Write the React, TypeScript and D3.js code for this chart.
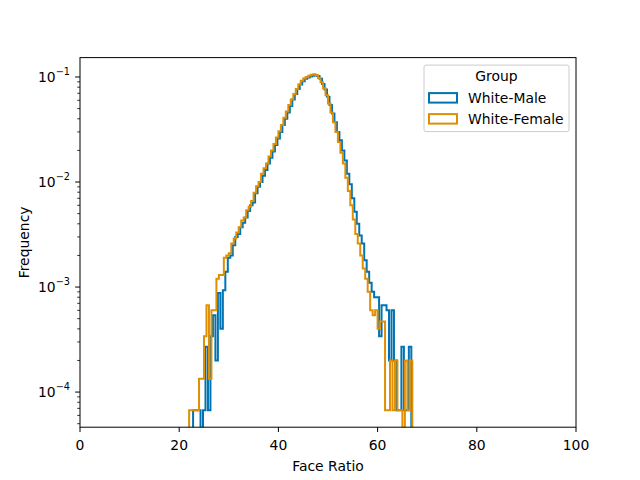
import * as d3 from 'd3';

// Histogram data (bin width 0.5, frequency per bin)
const BIN_WIDTH = 0.5;
const MALE_START = 22.3;
const FEMALE_START = 22.0;

const maleFreq = [
  0, 6.7e-5, 6.7e-5, 6.7e-5, 0, 6.7e-5, 2.7e-4, 6.7e-5, 3.4e-4, 5.4e-4,
  2.0e-4, 8.8e-4, 4.0e-4, 9.3e-4, 1.4e-3, 1.9e-3, 2.0e-3, 2.5e-3, 3.0e-3, 3.2e-3,
  3.7e-3, 4.1e-3, 4.6e-3, 5.3e-3, 6.0e-3, 6.4e-3, 7.8e-3, 9.0e-3, 1.0e-2, 1.15e-2,
  1.3e-2, 1.5e-2, 1.7e-2, 1.95e-2, 2.25e-2, 2.6e-2, 3.0e-2, 3.5e-2, 4.0e-2, 4.6e-2,
  5.3e-2, 6.1e-2, 6.9e-2, 7.7e-2, 8.5e-2, 9.1e-2, 9.6e-2, 9.9e-2, 1.01e-1, 1.03e-1,
  1.04e-1, 1.02e-1, 9.6e-2, 8.6e-2, 7.6e-2, 6.5e-2, 5.4e-2, 4.5e-2, 3.7e-2, 3.0e-2,
  2.5e-2, 2.0e-2, 1.6e-2, 1.2e-2, 9.5e-3, 7.0e-3, 5.2e-3, 4.0e-3, 3.1e-3, 2.6e-3,
  1.8e-3, 1.4e-3, 1.1e-3, 9.0e-4, 8.0e-4, 8.0e-4, 3.4e-4, 6.7e-4, 6.7e-4, 6.0e-4,
  2.0e-4, 6.0e-4, 2.0e-4, 6.7e-5, 6.7e-5, 2.7e-4, 6.7e-5, 6.7e-5, 2.7e-4, 0,
];

const femaleFreq = [
  6.7e-5, 6.7e-5, 6.7e-5, 6.7e-5, 1.34e-4, 1.34e-4, 3.4e-4, 6.7e-4, 1.34e-4, 6.0e-4,
  6.0e-4, 1.2e-3, 1.3e-3, 1.3e-3, 1.9e-3, 2.0e-3, 2.1e-3, 2.6e-3, 2.9e-3, 3.3e-3,
  3.7e-3, 4.3e-3, 4.6e-3, 5.4e-3, 5.8e-3, 6.6e-3, 7.9e-3, 9.1e-3, 1.0e-2, 1.2e-2,
  1.35e-2, 1.5e-2, 1.75e-2, 2.0e-2, 2.3e-2, 2.65e-2, 3.05e-2, 3.5e-2, 4.1e-2, 4.7e-2,
  5.4e-2, 6.1e-2, 6.9e-2, 7.7e-2, 8.5e-2, 9.2e-2, 9.7e-2, 1.0e-1, 1.03e-1, 1.05e-1,
  1.06e-1, 1.04e-1, 9.8e-2, 8.9e-2, 7.8e-2, 6.7e-2, 5.6e-2, 4.6e-2, 3.7e-2, 3.0e-2,
  2.4e-2, 1.9e-2, 1.5e-2, 1.1e-2, 8.2e-3, 6.0e-3, 4.4e-3, 3.2e-3, 2.6e-3, 2.0e-3,
  1.5e-3, 1.2e-3, 9.0e-4, 6.0e-4, 5.4e-4, 6.0e-4, 4.0e-4, 4.7e-4, 4.7e-4, 6.7e-5,
  6.7e-5, 2.0e-4, 6.7e-5, 2.0e-4, 6.7e-5, 6.7e-5, 0, 2.0e-4, 6.7e-5, 2.0e-4,
];

const xTicks = [0, 20, 40, 60, 80, 100];
const yTickExps = [-1, -2, -3, -4];
const seriesNames = ['White-Male', 'White-Female'];
const seriesColors = ['#0173b2', '#de8f05'];

// =============================================================================
// Layout
// =============================================================================

const WIDTH = 640;
const HEIGHT = 480;
const MARGIN = { top: 57.6, right: 64, bottom: 52.8, left: 80 };
const FONT = 'DejaVu Sans, sans-serif';

const innerW = WIDTH - MARGIN.left - MARGIN.right;
const innerH = HEIGHT - MARGIN.top - MARGIN.bottom;

const xScale = d3.scaleLinear().domain([0, 100]).range([0, innerW]);
const yScale = d3.scaleLog().domain([4.63e-5, 0.153]).range([innerH, 0]);

function stepPath(start: number, freq: number[]) {
  const floor = 1e-7;
  const pts: [number, number][] = [];
  pts.push([start, floor]);
  freq.forEach((v, i) => pts.push([start + i * BIN_WIDTH, v > 0 ? v : floor]));
  const last = freq[freq.length - 1];
  const end = start + freq.length * BIN_WIDTH;
  pts.push([end, last > 0 ? last : floor]);
  pts.push([end, floor]);
  const line = d3
    .line<[number, number]>()
    .x((d) => xScale(d[0]))
    .y((d) => Math.min(yScale(d[1]), innerH + 20))
    .curve(d3.curveStepAfter);
  return line(pts) || '';
}

export default function App() {
  const minorTicks: number[] = [];
  for (let e = -5; e <= -1; e++) {
    for (let m = 2; m <= 9; m++) {
      const v = m * Math.pow(10, e);
      if (v >= yScale.domain()[0] && v <= yScale.domain()[1]) minorTicks.push(v);
    }
  }

  return (
    <svg width={WIDTH} height={HEIGHT} style={{ display: 'block', margin: '-8px' }} fontFamily={FONT}>
      <rect width={WIDTH} height={HEIGHT} fill="#fff" />
      <defs>
        <clipPath id="plot-clip">
          <rect x={0} y={0} width={innerW} height={innerH} />
        </clipPath>
      </defs>
      <g transform={`translate(${MARGIN.left},${MARGIN.top})`}>
        <g clipPath="url(#plot-clip)">
          <path d={stepPath(MALE_START, maleFreq)} fill="none" stroke={seriesColors[0]} strokeWidth={2} />
          <path d={stepPath(FEMALE_START, femaleFreq)} fill="none" stroke={seriesColors[1]} strokeWidth={2} />
        </g>

        {/* axes frame */}
        <rect x={0} y={0} width={innerW} height={innerH} fill="none" stroke="#000" strokeWidth={1} />

        {/* x axis */}
        {xTicks.map((t) => (
          <g key={t} transform={`translate(${xScale(t)},${innerH})`}>
            <line y1={0} y2={4.86} stroke="#000" strokeWidth={1} />
            <text y={19} textAnchor="middle" fontSize={13.9} dominantBaseline="middle" fill="#000">
              {t}
            </text>
          </g>
        ))}
        <text x={innerW / 2} y={innerH + 40} textAnchor="middle" dominantBaseline="middle" fontSize={13.9} fill="#000">
          Face Ratio
        </text>

        {/* y axis */}
        {minorTicks.map((v) => (
          <line key={v} x1={-2.78} x2={0} y1={yScale(v)} y2={yScale(v)} stroke="#000" strokeWidth={0.8} />
        ))}
        {yTickExps.map((e) => {
          const y = yScale(Math.pow(10, e));
          return (
            <g key={e} transform={`translate(0,${y})`}>
              <line x1={-4.86} x2={0} stroke="#000" strokeWidth={1} />
              <text x={-10} y={5} textAnchor="end" fontSize={13.9} fill="#000">
                10
                <tspan fontSize={9.7} dy={-7}>
                  {'\u2212' + Math.abs(e)}
                </tspan>
              </text>
            </g>
          );
        })}
        <text
          transform={`translate(-55,${innerH / 2}) rotate(-90)`}
          textAnchor="middle"
          dominantBaseline="middle"
          fontSize={13.9}
          fill="#000"
        >
          Frequency
        </text>

        {/* legend */}
        <g transform={`translate(${innerW - 152},7.5)`}>
          <rect x={0} y={0} width={145} height={66.5} rx={2} fill="#fff" fillOpacity={0.8} stroke="#ccc" strokeWidth={1} />
          <text x={72.5} y={16} textAnchor="middle" fontSize={13.9} fill="#000">
            Group
          </text>
          {seriesNames.map((name, i) => (
            <g key={name} transform={`translate(0,${26 + i * 21})`}>
              <rect x={5} y={2} width={28} height={9.5} fill="none" stroke={seriesColors[i]} strokeWidth={2} />
              <text x={44} y={11.5} fontSize={13.9} fill="#000">
                {name}
              </text>
            </g>
          ))}
        </g>
      </g>
    </svg>
  );
}
